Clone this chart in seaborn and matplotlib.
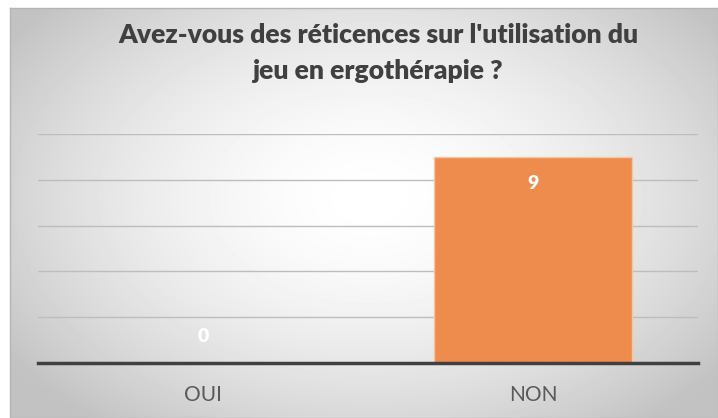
import numpy as np
import matplotlib.pyplot as plt
import seaborn as sns

categories = ["OUI", "NON"]
counts = [0, 9]
title = "Avez-vous des réticences sur l'utilisation du\njeu en ergothérapie ?"

sns.set_theme(style="white")
plt.rcParams['font.family'] = ['Lato', 'DejaVu Sans']

fig = plt.figure(figsize=(7.18, 4.18), dpi=100)
fig.patch.set_facecolor("white")

# radial grey background of the chart area
bg = fig.add_axes([10 / 718, 0, 708 / 718, 410 / 418], zorder=-1)
yy, xx = np.mgrid[0:410, 0:708]
d = np.sqrt(((xx - 360) / 400) ** 2 + ((yy - 190) / 260) ** 2)
shade = 1 - 0.24 * np.clip(d, 0, 1.1) ** 1.7 / 1.1 ** 1.7
bg.imshow(shade, cmap="gray", vmin=0, vmax=1, aspect="auto", extent=[0, 1, 0, 1], origin="upper")
bg.set_xticks([])
bg.set_yticks([])
for s in bg.spines.values():
    s.set_color("#b4b4b4")
    s.set_linewidth(1)

ax = fig.add_axes([38 / 718, 55 / 418, 660 / 718, 229 / 418])
ax.set_facecolor("none")
sns.barplot(x=categories, y=counts, color="#ee8c4e", width=0.6, saturation=1,
            edgecolor="#f6c6a4", linewidth=1, ax=ax, zorder=3)
ax.set_ylim(0, 10)
ax.set_xlim(-0.5, 1.5)
ax.set_yticks([2, 4, 6, 8, 10])
ax.yaxis.grid(True, color="#bdbdbd", linewidth=1)
ax.set_axisbelow(True)
ax.tick_params(axis="y", left=False, labelleft=False)
ax.tick_params(axis="x", bottom=False, labelsize=15, labelcolor="#595959", pad=10)
for s in ["top", "right", "left"]:
    ax.spines[s].set_visible(False)
ax.spines["bottom"].set_color("#404040")
ax.spines["bottom"].set_linewidth(2.5)
ax.spines["bottom"].set_zorder(4)
ax.set_xlabel("")
ax.set_ylabel("")

for i, v in enumerate(counts):
    off = -27 if v > 0 else 26
    ax.annotate(str(v), (i, v), xytext=(0, off), textcoords="offset pixels",
                ha="center", va="center", color="white", fontsize=14, fontweight="heavy", zorder=5)

fig.text(378 / 718, 1 - 53 / 418, title, ha="center", va="center", fontsize=19.1,
         fontweight="heavy", color="#404040", linespacing=1.58)

fig.savefig("out.png", dpi=100)
